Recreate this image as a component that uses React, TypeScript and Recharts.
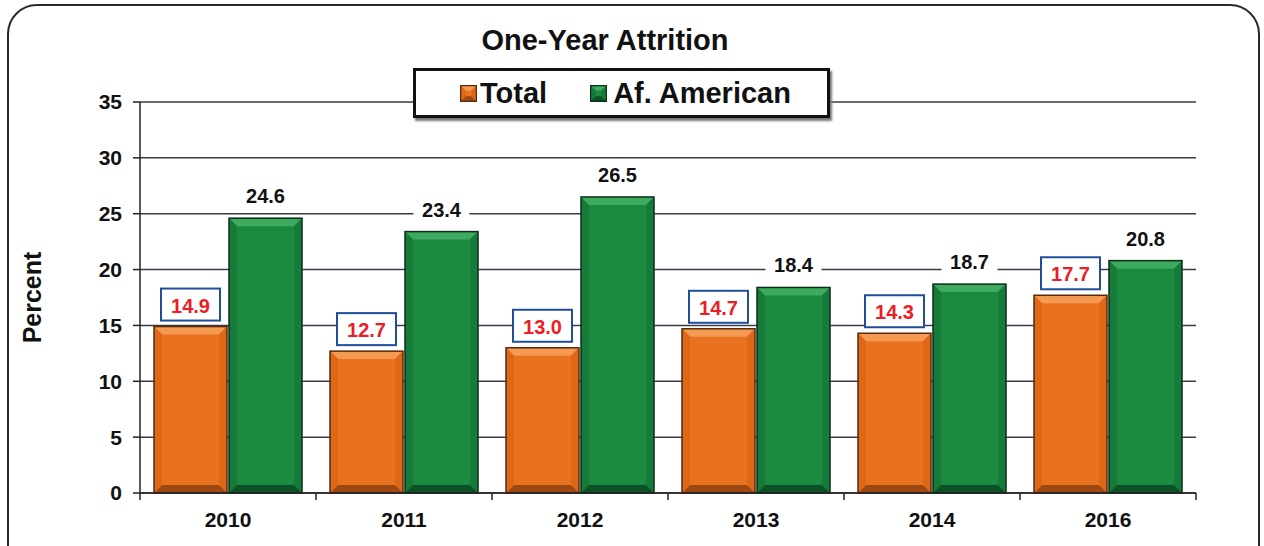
import { BarChart, Bar, XAxis, YAxis, CartesianGrid, LabelList } from 'recharts'

const years = ['2010', '2011', '2012', '2013', '2014', '2016']
const totalValues = [14.9, 12.7, 13.0, 14.7, 14.3, 17.7]
const afAmericanValues = [24.6, 23.4, 26.5, 18.4, 18.7, 20.8]
const yTicks = [0, 5, 10, 15, 20, 25, 30, 35]

const data = years.map((year, i) => ({
    year,
    total: totalValues[i],
    afAmerican: afAmericanValues[i],
}))

const FONT = '"Liberation Sans", Arial, Helvetica, sans-serif'

const orange = { main: '#E8721F', top: '#F49A52', side: '#DE6817', bottom: '#9C4A12', edge: '#5a2a0a' }
const green = { main: '#1A8A3F', top: '#3DAA60', side: '#157A3A', bottom: '#0D4F26', edge: '#0a2e16' }

type Pal = typeof orange

// bar with a bevelled edge, like the old office 3D style
function BevelBar(props: any) {
    const { x, y, width, height, pal } = props as { x: number; y: number; width: number; height: number; pal: Pal }
    if (!height || height <= 0) return null
    const b = Math.min(8, height / 3)
    const r = x + width
    const btm = y + height
    return (
        <g>
            <rect x={x} y={y} width={width} height={height} fill={pal.main} />
            <polygon points={`${x},${y} ${r},${y} ${r - b},${y + b} ${x + b},${y + b}`} fill={pal.top} />
            <polygon points={`${x},${y} ${x + b},${y + b} ${x + b},${btm - b} ${x},${btm}`} fill={pal.side} />
            <polygon points={`${r},${y} ${r - b},${y + b} ${r - b},${btm - b} ${r},${btm}`} fill={pal.side} />
            <polygon points={`${x},${btm} ${x + b},${btm - b} ${r - b},${btm - b} ${r},${btm}`} fill={pal.bottom} />
            <rect x={x} y={y} width={width} height={height} fill="none" stroke={pal.edge} strokeWidth={1.5} />
        </g>
    )
}

function TotalLabel(props: any) {
    const { x, y, width, value } = props
    const cx = x + width / 2
    const bottom = y - 6
    return (
        <g>
            <rect x={cx - 29.5} y={bottom - 32} width={59} height={32} fill="#fff" stroke="#1F4E9A" strokeWidth={2} />
            <text x={cx} y={bottom - 15} textAnchor="middle" dominantBaseline="central"
                fill="#EE1C25" fontWeight="bold" fontSize={20} fontFamily={FONT}>
                {Number(value).toFixed(1)}
            </text>
        </g>
    )
}

function AfLabel(props: any) {
    const { x, y, width, value } = props
    const cx = x + width / 2
    const cy = y - 23
    return (
        <g>
            <rect x={cx - 28} y={cy - 12} width={56} height={24} fill="#fff" />
            <text x={cx} y={cy + 1} textAnchor="middle" dominantBaseline="central"
                fill="#111" fontWeight="bold" fontSize={20} fontFamily={FONT}>
                {Number(value).toFixed(1)}
            </text>
        </g>
    )
}

function YearTick(props: any) {
    const { x, y, payload, index } = props
    const half = payload.offset ?? 88
    return (
        <g>
            <line x1={x - half} y1={y} x2={x - half} y2={y + 7} stroke="#222" strokeWidth={1.5} />
            {index === years.length - 1 && (
                <line x1={x + half} y1={y} x2={x + half} y2={y + 7} stroke="#222" strokeWidth={1.5} />
            )}
            <text x={x} y={y + 26} textAnchor="middle" dominantBaseline="central"
                fill="#111" fontWeight="bold" fontSize={21} fontFamily={FONT}>
                {payload.value}
            </text>
        </g>
    )
}

function LegendIcon({ pal }: { pal: Pal }) {
    return (
        <svg width={17} height={17} style={{ display: 'block' }}>
            <BevelBar x={0.5} y={0.5} width={16} height={16} pal={pal} />
        </svg>
    )
}

export default function App() {
    return (
        <div style={{ position: 'relative', width: 1264, height: 546, overflow: 'hidden', background: '#fff', fontFamily: FONT }}>
            <style>{'body{margin:0}'}</style>
            {/* rounded frame, bottom runs off the page */}
            <div style={{
                position: 'absolute', left: 7, top: 4, width: 1249, height: 600,
                border: '2px solid #2a2a2a', borderRadius: 30,
            }} />

            <BarChart
                width={1264}
                height={546}
                data={data}
                margin={{ top: 102, right: 68, bottom: 0, left: 0 }}
                barCategoryGap={14}
                barGap={2}
                style={{ position: 'absolute', left: 0, top: 0 }}
            >
                <CartesianGrid vertical={false} stroke="#3b3b4a" strokeWidth={1.5} />
                <XAxis
                    dataKey="year"
                    height={53}
                    axisLine={{ stroke: '#222', strokeWidth: 1.5 }}
                    tickLine={false}
                    tickSize={0}
                    tickMargin={0}
                    tick={<YearTick />}
                    interval={0}
                />
                <YAxis
                    width={140}
                    domain={[0, 35]}
                    ticks={yTicks}
                    interval={0}
                    axisLine={{ stroke: '#222', strokeWidth: 1.5 }}
                    tickLine={{ stroke: '#222', strokeWidth: 1.5 }}
                    tickSize={7}
                    tickMargin={11}
                    tick={{ fill: '#111', fontSize: 21, fontWeight: 'bold', fontFamily: FONT }}
                    label={{
                        value: 'Percent', angle: -90, position: 'insideLeft', offset: 32,
                        style: { textAnchor: 'middle', fill: '#111', fontSize: 25, fontWeight: 'bold', fontFamily: FONT },
                    }}
                />
                <Bar dataKey="total" name="Total" isAnimationActive={false}
                    shape={(p: any) => <BevelBar {...p} pal={orange} />}>
                    <LabelList dataKey="total" content={<TotalLabel />} />
                </Bar>
                <Bar dataKey="afAmerican" name="Af. American" isAnimationActive={false}
                    shape={(p: any) => <BevelBar {...p} pal={green} />}>
                    <LabelList dataKey="afAmerican" content={<AfLabel />} />
                </Bar>
            </BarChart>

            {/* title */}
            <div style={{
                position: 'absolute', left: 405, top: 26, width: 400, textAlign: 'center',
                fontSize: 29, fontWeight: 'bold', color: '#111', lineHeight: 1,
            }}>
                One-Year Attrition
            </div>

            {/* legend */}
            <div style={{
                position: 'absolute', left: 413, top: 68, width: 411, height: 44,
                border: '3px solid #111', background: '#fff', boxShadow: '2px 3px 2px #777',
                display: 'flex', alignItems: 'center', fontSize: 29, fontWeight: 'bold', color: '#111',
            }}>
                <span style={{ marginLeft: 44 }}><LegendIcon pal={orange} /></span>
                <span style={{ marginLeft: 3 }}>Total</span>
                <span style={{ marginLeft: 43 }}><LegendIcon pal={green} /></span>
                <span style={{ marginLeft: 6 }}>Af. American</span>
            </div>
        </div>
    )
}
